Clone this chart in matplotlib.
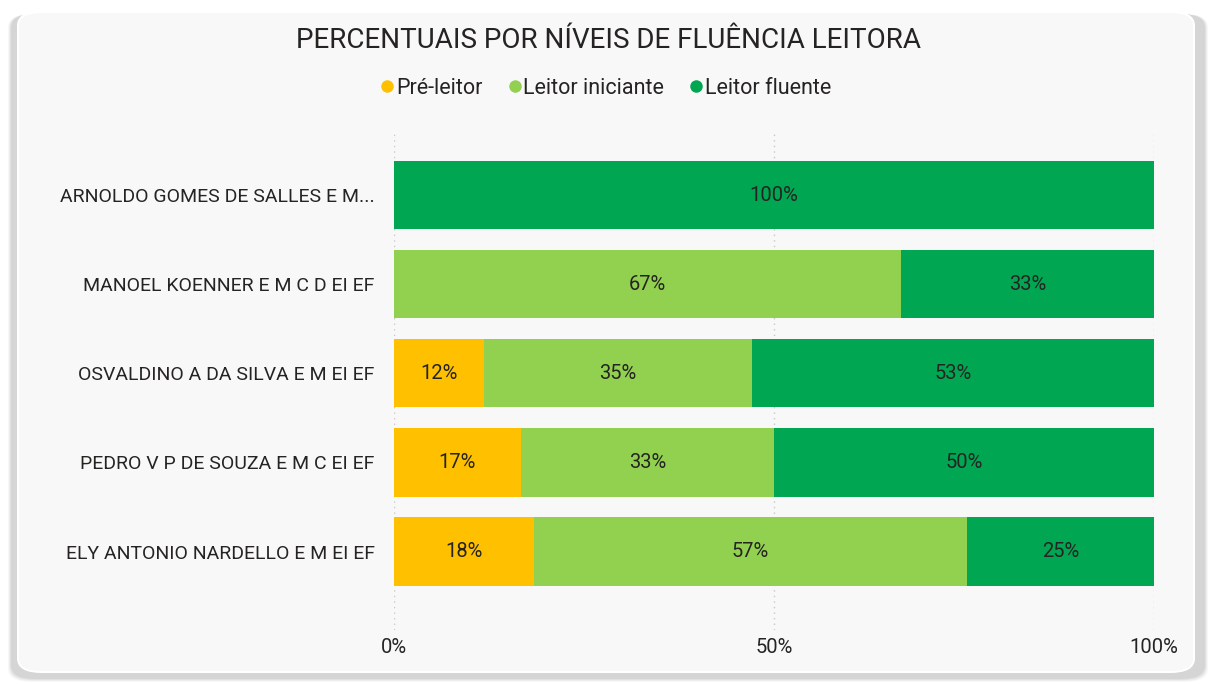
import matplotlib
matplotlib.use("Agg")
import matplotlib.pyplot as plt
import matplotlib.patches as mpatches
from matplotlib.lines import Line2D
import numpy as np

plt.rcParams["font.family"] = ["Roboto", "DejaVu Sans"]

schools = ["ARNOLDO GOMES DE SALLES E M...", "MANOEL KOENNER E M C D EI EF",
           "OSVALDINO A DA SILVA E M EI EF", "PEDRO V P DE SOUZA E M C EI EF",
           "ELY ANTONIO NARDELLO E M EI EF"]
pre_leitor = [0.0, 0.0, 11.8, 16.7, 18.4]
iniciante  = [0.0, 66.7, 35.3, 33.3, 57.0]
fluente    = [100.0, 33.3, 52.9, 50.0, 24.6]
series_names = ["Pré-leitor", "Leitor iniciante", "Leitor fluente"]
colors = ["#FFC000", "#92D050", "#00A651"]
xticks = [0, 50, 100]
TXT = "#252423"

fig = plt.figure(figsize=(12.08, 6.84), dpi=100)
fig.patch.set_facecolor("white")

# card with soft shadow
W, H = 1208, 684
for i, a in enumerate([0.06, 0.08, 0.10, 0.12]):
    off = 6 - i
    fig.patches.append(mpatches.FancyBboxPatch(
        ((14 - off) / W, (8 - off) / H), (1188 + 2 * off) / W, (662 + off) / H,
        boxstyle="round,pad=0,rounding_size=0.02", transform=fig.transFigure,
        facecolor="#808080", edgecolor="none", alpha=a, zorder=0))
fig.patches.append(mpatches.FancyBboxPatch(
    (18 / W, 12 / H), 1176 / W, 660 / H,
    boxstyle="round,pad=0,rounding_size=0.02", transform=fig.transFigure,
    facecolor="#F8F8F8", edgecolor="white", linewidth=1.5, zorder=1))

ax = fig.add_axes([394 / W, 1 - 630 / H, 760 / W, 500 / H])
ax.set_facecolor("none")
ax.set_zorder(2)

y = np.arange(len(schools))
left = np.zeros(len(schools))
for vals, col in zip([pre_leitor, iniciante, fluente], colors):
    vals = np.array(vals)
    ax.barh(y, vals, left=left, height=0.765, color=col, edgecolor="none", zorder=3)
    for yi, (l, v) in enumerate(zip(left, vals)):
        if v > 0:
            ax.text(l + v / 2, yi, f"{v:.0f}%", ha="center", va="center",
                    fontsize=14.5, color=TXT, zorder=4)
    left += vals

ax.set_xlim(0, 100)
ax.set_ylim(4.88, -0.73)
ax.set_yticks(y)
ax.set_yticklabels(schools, fontsize=14, color=TXT)
ax.set_xticks(xticks)
ax.set_xticklabels([f"{t}%" for t in xticks], fontsize=14.5, color=TXT)
ax.tick_params(length=0)
ax.tick_params(axis="y", pad=14)
ax.tick_params(axis="x", pad=6)
ax.grid(axis="x", linestyle=(0, (1, 3)), color="#C8C8C8", linewidth=1, zorder=0)
for s in ax.spines.values():
    s.set_visible(False)

fig.text(608 / W, 1 - 40 / H, "PERCENTUAIS POR NÍVEIS DE FLUÊNCIA LEITORA",
         ha="center", va="center", fontsize=20, color=TXT)

handles = [Line2D([], [], marker="o", linestyle="none", markersize=9,
                  markerfacecolor=c, markeredgecolor="none") for c in colors]
fig.legend(handles, series_names, loc="center", bbox_to_anchor=(604 / W, 1 - 88 / H),
           ncol=3, frameon=False, fontsize=15.5, handletextpad=-0.1, columnspacing=1.0,
           handlelength=1.0, labelcolor=TXT)

fig.savefig("out.png", dpi=100, facecolor=fig.get_facecolor())
